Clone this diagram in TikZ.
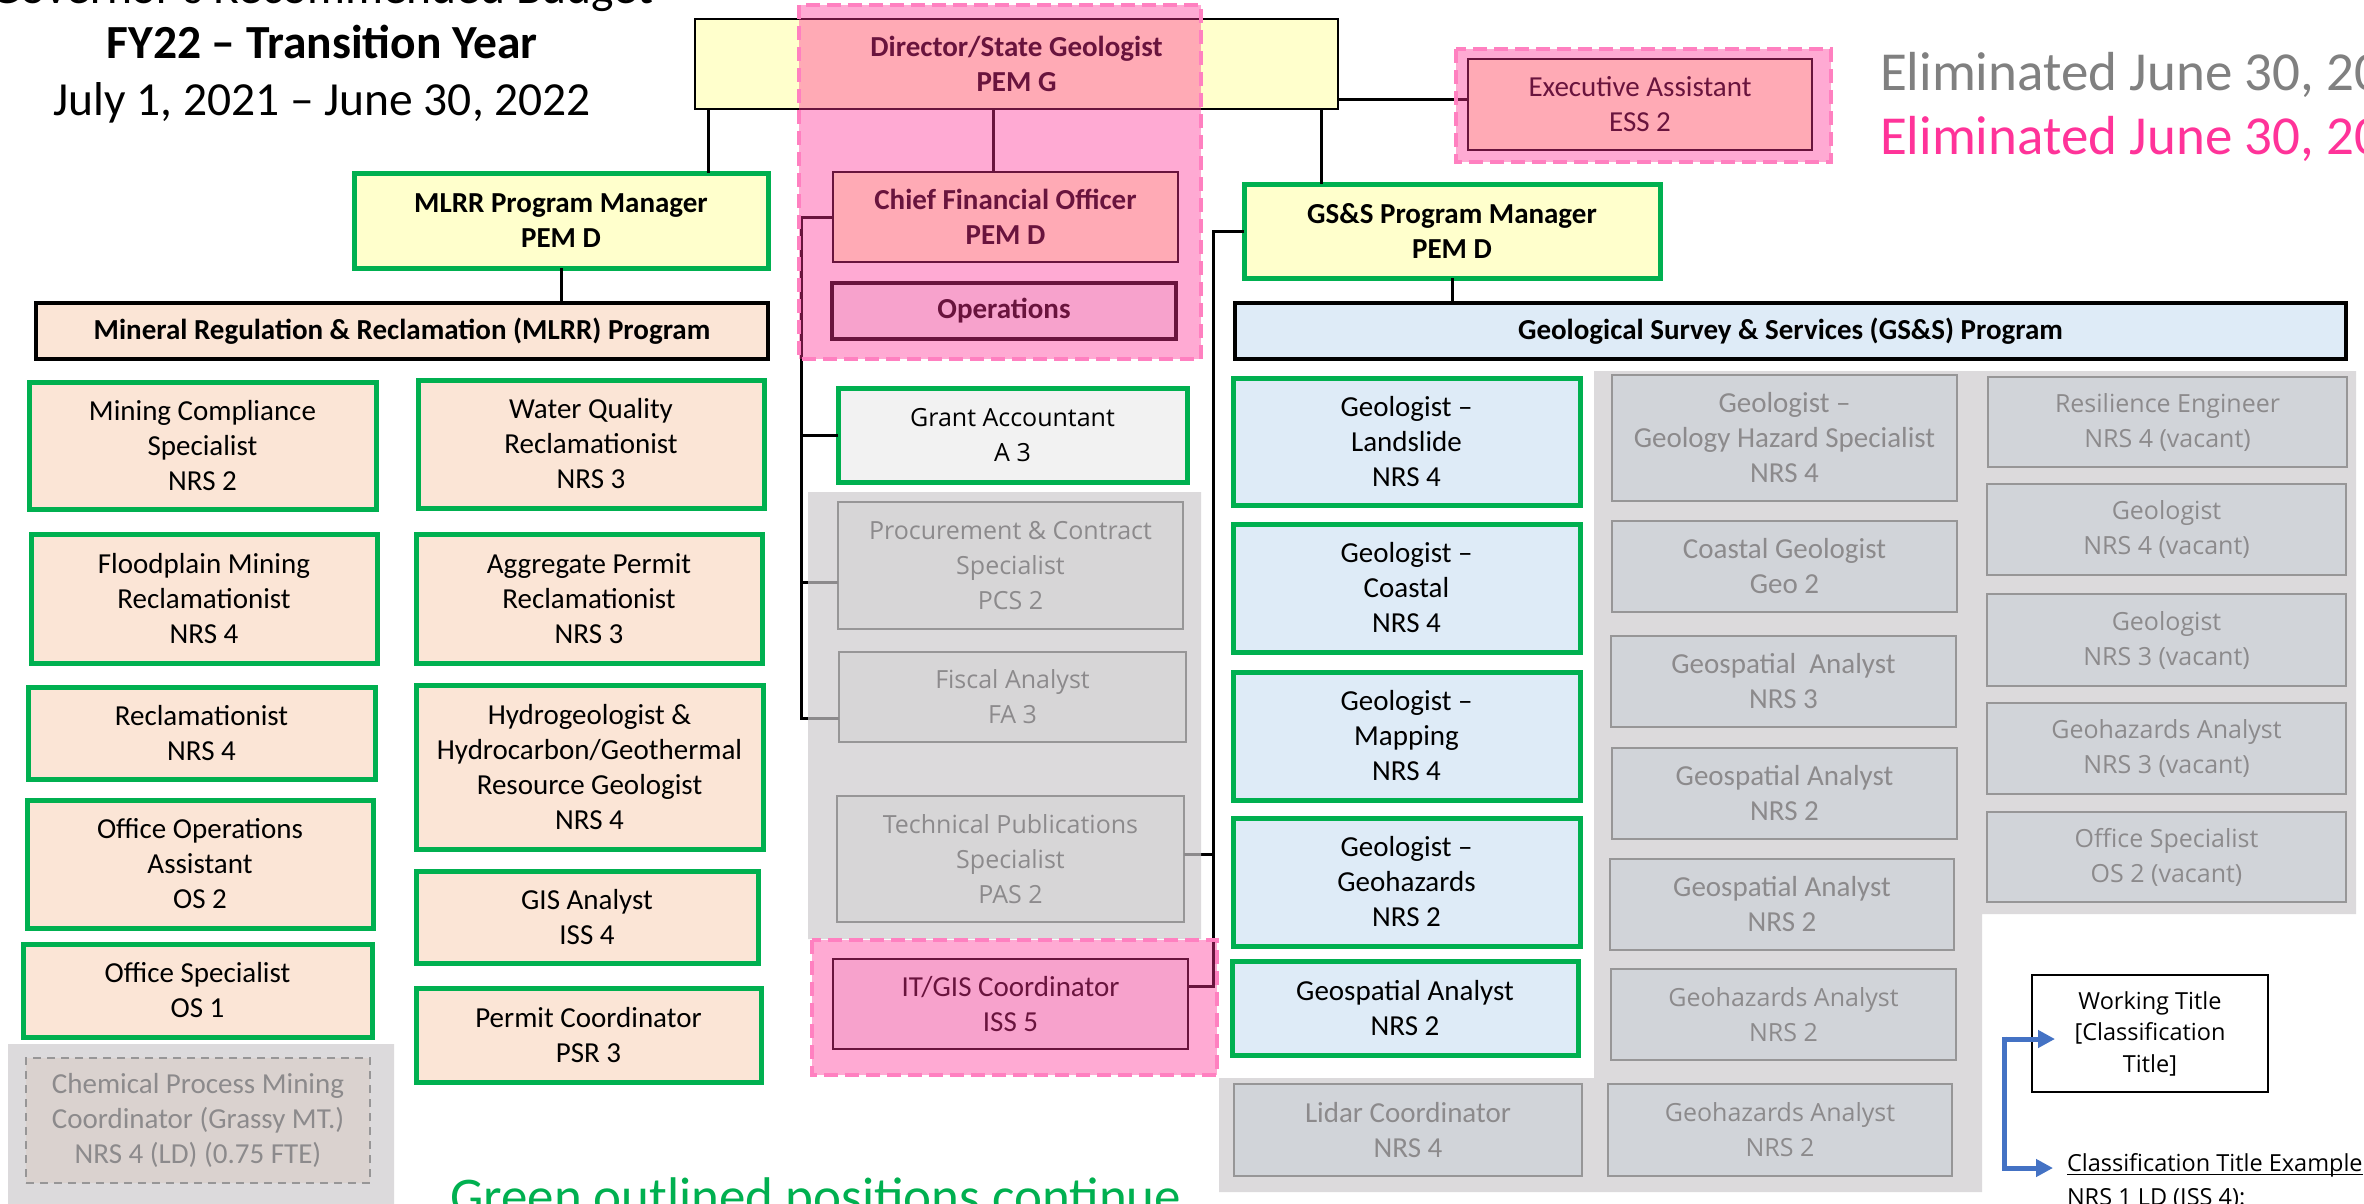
\documentclass[tikz,border=0pt]{standalone}
\usepackage{fontspec}
\setmainfont{Carlito}
\newfontfamily\segfam{Open Sans}
\usetikzlibrary{arrows.meta}
\definecolor{grn}{HTML}{00B050}
\definecolor{yel}{HTML}{FFFFCC}
\definecolor{peach}{HTML}{FBE5D6}
\definecolor{lblue}{HTML}{DEEBF7}
\definecolor{lgray}{HTML}{F2F2F2}
\definecolor{pinkov}{RGB}{255,49,150}
\definecolor{pinkdash}{RGB}{255,128,192}
\definecolor{grayov}{RGB}{204,202,204}
\definecolor{elimpink}{RGB}{255,51,153}
\definecolor{elimgray}{RGB}{128,128,128}
\definecolor{arrblue}{HTML}{4472C4}
\newcommand\calfont{\fontsize{29}{35}\selectfont}
\newcommand\segfont{\segfam\fontsize{25}{35}\selectfont}
\newcommand\mybox[7]{%
  \pgfmathsetmacro\bxw{#5-#3}\pgfmathsetmacro\bxh{#6-#4}%
  \pgfmathsetmacro\bxx{(#3+#5)/2}\pgfmathsetmacro\bxy{(#4+#6)/2}%
  \node[#2, minimum width=\bxw pt, minimum height=\bxh pt] (#1) at (\bxx,\bxy) {#7};}
\begin{document}
\begin{tikzpicture}[x=1pt,y=-1pt,
  bxbase/.style={rectangle, inner sep=0pt, outer sep=0pt, align=center, font=\calfont},
  greenbox/.style={bxbase, draw=grn, line width=5pt},
  thinbox/.style={bxbase, draw=black, line width=2pt},
  thickbox/.style={bxbase, draw=black, line width=3.5pt},
  graybox/.style={bxbase, draw=black!85, line width=2.2pt},
  dashbox/.style={bxbase, draw=black!85, line width=2pt, dash pattern=on 8pt off 6pt},
  conn/.style={draw=black, line width=3pt},
  bluearr/.style={draw=arrblue, line width=5pt, -{Triangle[length=17pt,width=17pt]}},
  freetext/.style={inner sep=0pt, outer sep=0pt}]
\useasboundingbox (0,0) rectangle (2364,1203);
\clip (0,0) rectangle (2364,1203);
\fill[white] (0,0) rectangle (2364,1203);

% ---------- top level ----------
\mybox{dir}{thinbox, fill=yel, font=\calfont\bfseries}{695}{19}{1338}{109}{Director/State Geologist\\PEM G}
\mybox{ea}{thinbox, fill=yel}{1468}{59}{1812}{150}{Executive Assistant\\ESS 2}
\mybox{cfo}{thinbox, fill=yel, font=\calfont\bfseries}{833}{172}{1178}{262}{Chief Financial Officer\\PEM D}
\mybox{ops}{thickbox, fill=lgray, font=\calfont\bfseries}{832}{283}{1176}{339}{Operations}
\mybox{mlrrm}{greenbox, fill=yel, font=\calfont\bfseries}{354}{173}{768}{268}{MLRR Program Manager\\PEM D}
\mybox{mlrrp}{thickbox, fill=peach, font=\calfont\bfseries}{36}{303}{768}{359}{Mineral Regulation \& Reclamation (MLRR) Program}
\mybox{gssm}{greenbox, fill=yel, font=\calfont\bfseries}{1244}{184}{1660}{278}{GS\&S Program Manager\\PEM D}
\mybox{gssp}{thickbox, fill=lblue, font=\calfont\bfseries}{1235}{303}{2346}{359}{Geological Survey \& Services (GS\&S) Program}

% ---------- MLRR staff ----------
\mybox{mc}{greenbox, fill=peach}{29}{382}{376}{509}{Mining Compliance\\Specialist\\NRS 2}
\mybox{wq}{greenbox, fill=peach}{418}{380}{764}{508}{Water Quality\\Reclamationist\\NRS 3}
\mybox{fp}{greenbox, fill=peach}{31}{534}{377}{663}{Floodplain Mining\\Reclamationist\\NRS 4}
\mybox{ag}{greenbox, fill=peach}{416}{534}{762}{663}{Aggregate Permit\\Reclamationist\\NRS 3}
\mybox{rc}{greenbox, fill=peach}{28}{687}{375}{779}{Reclamationist\\NRS 4}
\mybox{hy}{greenbox, fill=peach}{416}{685}{763}{849}{Hydrogeologist \&\\Hydrocarbon/Geothermal\\Resource Geologist\\NRS 4}
\mybox{oo}{greenbox, fill=peach}{27}{800}{373}{928}{Office Operations\\Assistant\\OS 2}
\mybox{gis}{greenbox, fill=peach}{416}{871}{758}{963}{GIS Analyst\\ISS 4}
\mybox{os1}{greenbox, fill=peach}{23}{944}{372}{1037}{Office Specialist\\OS 1}
\mybox{pc}{greenbox, fill=peach}{416}{988}{761}{1082}{Permit Coordinator\\PSR 3}
\mybox{chem}{dashbox, fill=peach}{26}{1058}{370}{1183}{Chemical Process Mining\\Coordinator (Grassy MT.)\\NRS 4 (LD) (0.75 FTE)}

% ---------- middle (operations) ----------
\mybox{ga}{greenbox, fill=lgray, font=\segfont}{838}{388}{1187}{482}{Grant Accountant\\A 3}
\mybox{pcs}{graybox, fill=lgray, font=\segfont}{838}{502}{1183}{629}{Procurement \& Contract\\Specialist\\PCS 2}
\mybox{fa}{graybox, fill=lgray, font=\segfont}{839}{652}{1186}{742}{Fiscal Analyst\\FA 3}
\mybox{tp}{graybox, fill=lgray, font=\segfont}{837}{796}{1184}{922}{Technical Publications\\Specialist\\PAS 2}
\mybox{it}{thinbox, fill=lgray}{833}{959}{1188}{1049}{IT/GIS Coordinator\\ISS 5}

% ---------- GS&S column 1 ----------
\mybox{g1}{greenbox, fill=lblue}{1233}{378}{1580}{505}{Geologist –\\Landslide\\NRS 4}
\mybox{g2}{greenbox, fill=lblue}{1233}{524}{1580}{652}{Geologist –\\Coastal\\NRS 4}
\mybox{g3}{greenbox, fill=lblue}{1233}{672}{1580}{800}{Geologist –\\Mapping\\NRS 4}
\mybox{g4}{greenbox, fill=lblue}{1233}{818}{1580}{946}{Geologist –\\Geohazards\\NRS 2}
\mybox{g5}{greenbox, fill=lblue}{1232}{961}{1578}{1055}{Geospatial Analyst\\NRS 2}
\mybox{lid}{graybox, fill=lblue}{1234}{1084}{1582}{1176}{Lidar Coordinator\\NRS 4}

% ---------- GS&S column 2 ----------
\mybox{c1}{graybox, fill=lblue}{1612}{375}{1957}{501}{Geologist –\\Geology Hazard Specialist\\NRS 4}
\mybox{c2}{graybox, fill=lblue}{1612}{521}{1957}{612}{Coastal Geologist\\Geo 2}
\mybox{c3}{graybox, fill=lblue}{1611}{636}{1956}{727}{Geospatial~~Analyst\\NRS 3}
\mybox{c4}{graybox, fill=lblue}{1612}{748}{1957}{839}{Geospatial Analyst\\NRS 2}
\mybox{c5}{graybox, fill=lblue}{1610}{859}{1954}{950}{Geospatial Analyst\\NRS 2}
\mybox{c6}{graybox, fill=lblue, font=\segfont}{1611}{969}{1956}{1060}{Geohazards Analyst\\NRS 2}
\mybox{c7}{graybox, fill=lblue, font=\segfont}{1608}{1084}{1952}{1176}{Geohazards Analyst\\NRS 2}

% ---------- GS&S column 3 ----------
\mybox{r1}{graybox, fill=lblue, font=\segfont}{1988}{377}{2347}{467}{Resilience Engineer\\NRS 4 (vacant)}
\mybox{r2}{graybox, fill=lblue, font=\segfont}{1987}{484}{2346}{575}{Geologist\\NRS 4 (vacant)}
\mybox{r3}{graybox, fill=lblue, font=\segfont}{1987}{594}{2346}{686}{Geologist\\NRS 3 (vacant)}
\mybox{r4}{graybox, fill=lblue, font=\segfont}{1987}{703}{2346}{794}{Geohazards Analyst\\NRS 3 (vacant)}
\mybox{r5}{graybox, fill=lblue, font=\segfont}{1987}{812}{2346}{902}{Office Specialist\\OS 2 (vacant)}

% ---------- connectors ----------
\coordinate (hx1) at (708,0);
\coordinate (hx2) at (993,0);
\coordinate (hx3) at (1321,0);
\coordinate (hy1) at (0,99);
\draw[conn] (hx1 |- dir.south) -- (hx1 |- mlrrm.north);
\draw[conn] (hx2 |- dir.south) -- (hx2 |- cfo.north);
\draw[conn] (hx3 |- dir.south) -- (hx3 |- gssm.north);
\draw[conn] (dir.east |- hy1) -- (ea.west |- hy1);
\draw[conn] (mlrrm.south) -- (mlrrm.south |- mlrrp.north);
\draw[conn] (gssm.south) -- (gssm.south |- gssp.north);
\coordinate (sp1) at ([xshift=-32pt]cfo.west);
\coordinate (pcsb) at ([yshift=-17pt]pcs.west);
\coordinate (fab) at ([yshift=-21pt]fa.west);
\draw[conn] (cfo.west) -- (sp1) -- (sp1 |- fab) -- (fab);
\draw[conn] (sp1 |- ga.west) -- (ga.west);
\draw[conn] (sp1 |- pcsb) -- (pcsb);
\coordinate (sp2) at ([xshift=-31pt]gssm.west);
\coordinate (itb) at ([yshift=18pt]it.east);
\coordinate (tpb) at ([yshift=5pt]tp.east);
\draw[conn] (gssm.west) -- (sp2) -- (sp2 |- itb) -- (itb);
\draw[conn] (sp2 |- tpb) -- (tpb);

% ---------- overlays ----------
\fill[grayov, fill opacity=0.686]
  (808,492) rectangle (1201,939)
  (8,1044) rectangle (394,1210)
  (1594,371) rectangle (2356,914)
  (1594,914) rectangle (1982,1078)
  (1219,1078) rectangle (1982,1192);
\fill[pinkov, fill opacity=0.41] (799,5) rectangle (1201,359);
\fill[pinkov, fill opacity=0.41] (1456,49) rectangle (1831,162);
\fill[pinkov, fill opacity=0.41] (812,940) rectangle (1217,1075);
\draw[pinkdash, line width=4pt, dash pattern=on 14pt off 7pt] (799,5) rectangle (1201,359);
\draw[pinkdash, line width=4pt, dash pattern=on 14pt off 7pt] (1456,49) rectangle (1831,162);
\draw[pinkdash, line width=4pt, dash pattern=on 14pt off 7pt] (812,940) rectangle (1217,1075);

% ---------- titles ----------
\node[freetext, anchor=base, font=\fontsize{47.5}{56}\selectfont] (t0) at (322,3) {Governor’s Recommended Budget};
\node[freetext, anchor=base, font=\fontsize{47.5}{56}\selectfont\bfseries] (t1) at (322,58) {FY22 – Transition Year};
\node[freetext, anchor=base, font=\fontsize{47.5}{56}\selectfont] (t2) at (322,115) {July 1, 2021 – June 30, 2022};
\node[freetext, anchor=base west, font=\fontsize{55}{62}\selectfont, text=elimgray] (e1) at (1880,90) {Eliminated June 30, 2021};
\node[freetext, anchor=base west, font=\fontsize{55}{62}\selectfont, text=elimpink] (e2) at (1880,154) {Eliminated June 30, 2022};
\node[freetext, anchor=base west, font=\fontsize{53}{60}\selectfont, text=grn] (gt) at (450,1214) {Green outlined positions continue};

% ---------- legend ----------
\mybox{lt}{bxbase, draw=black, line width=2.5pt, fill=white, font=\segfam\fontsize{23.5}{31.5}\selectfont}{2032}{975}{2268}{1092}{Working Title\\{[}Classification\\Title{]}}
\node[freetext, anchor=base west, font=\segfam\fontsize{23.5}{31.5}\selectfont] (cte) at (2067,1171) {Classification Title Example};
\draw[line width=1.5pt] ([yshift=-3.5pt]cte.base west) -- ([yshift=-3.5pt]cte.base east);
\node[freetext, anchor=base west, font=\segfam\fontsize{23.5}{31.5}\selectfont] (nrs) at (2067,1205) {NRS 1 LD (ISS 4):};
\coordinate (a0) at (2004,1039);
\coordinate (tipA) at (2055,1039);
\coordinate (tipB) at (2053,1168);
\draw[bluearr] (a0) -- (tipA);
\draw[bluearr] ([yshift=2.5pt]a0) |- (tipB);
\end{tikzpicture}
\end{document}
